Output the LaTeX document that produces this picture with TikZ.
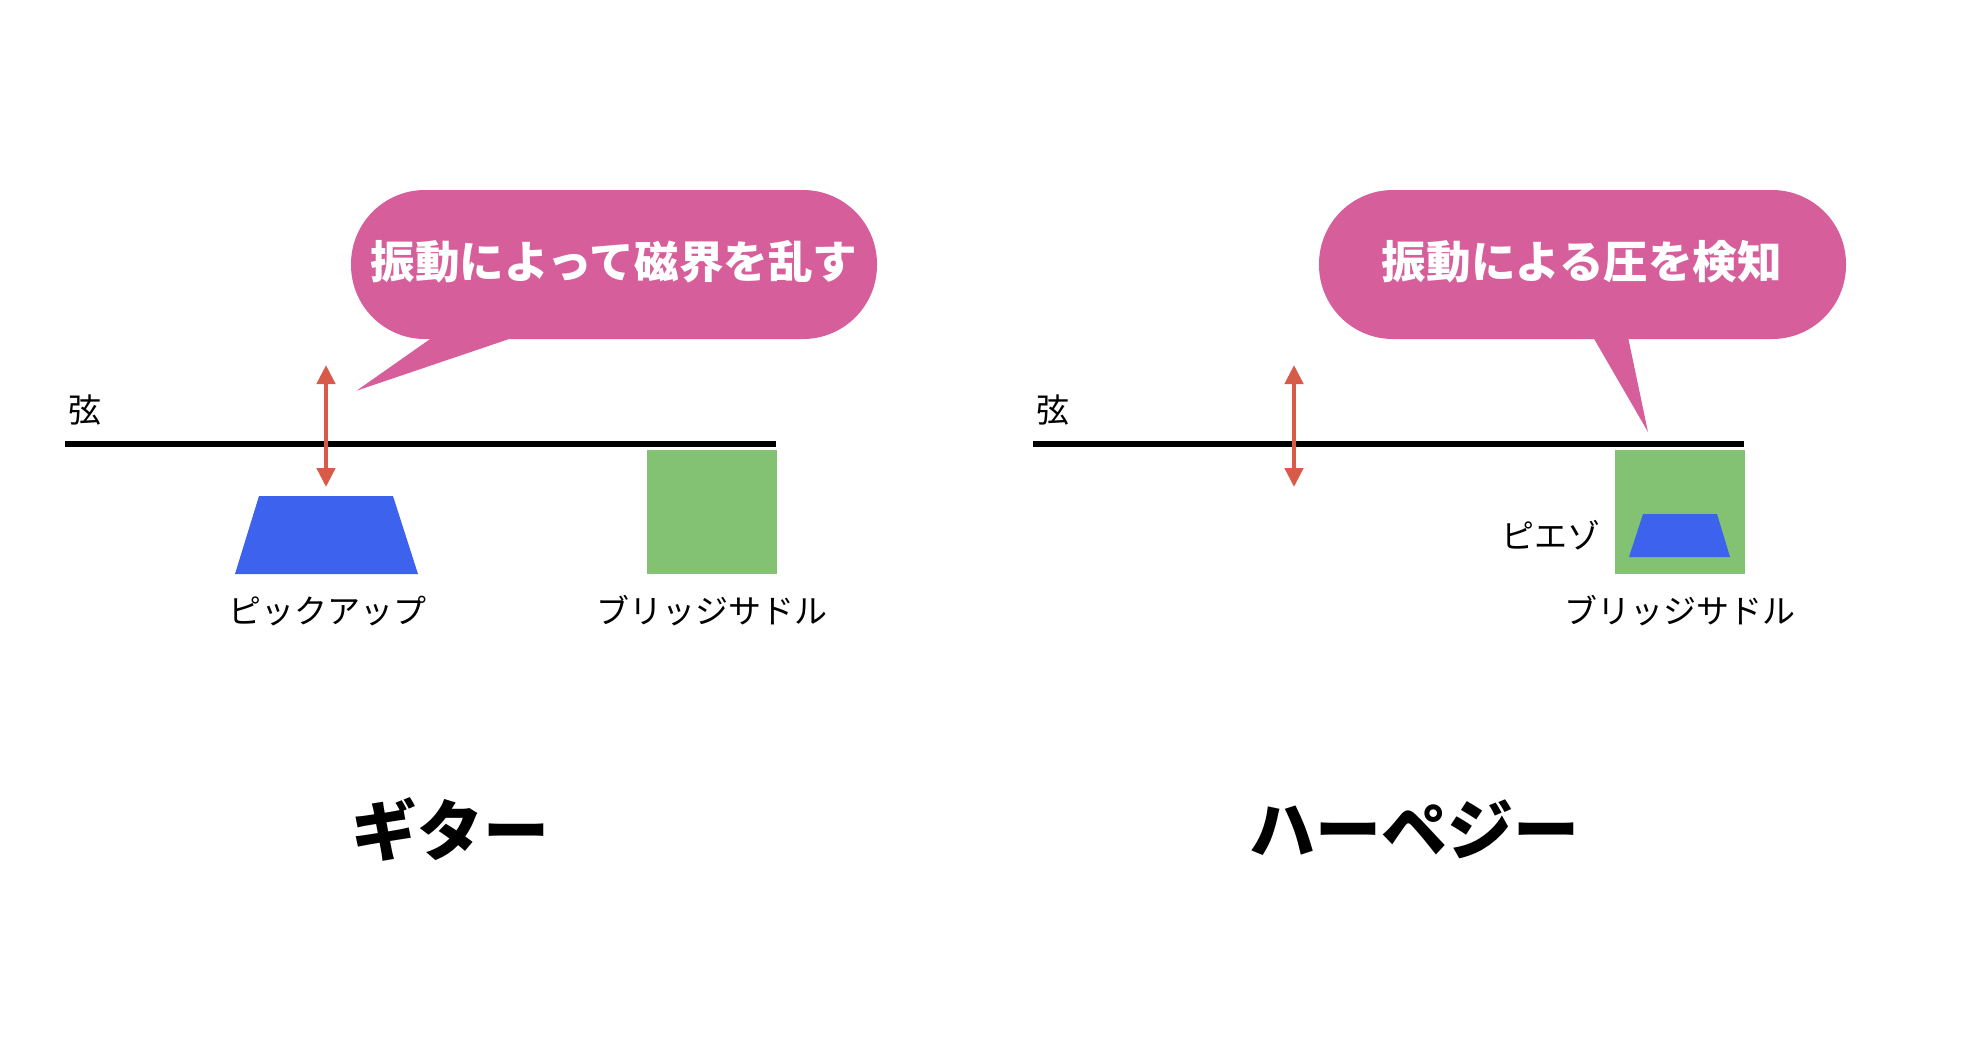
\documentclass[tikz,border=0pt]{standalone}
\usepackage{fontspec}
\setmainfont{Noto Sans CJK JP}
\usetikzlibrary{positioning}
\usetikzlibrary{arrows.meta}
\definecolor{bubblepink}{HTML}{D65E9A}
\definecolor{pickupblue}{HTML}{3C62EE}
\definecolor{saddlegreen}{HTML}{82C272}
\definecolor{vibred}{HTML}{D85A48}
\begin{document}
\begin{tikzpicture}[x=0.5pt,y=-0.5pt,
		smalllabel/.style={font=\fontsize{16.5}{19}\selectfont, inner sep=0pt},
		saytext/.style={font=\fontsize{22.3}{26}\selectfont\bfseries, text=white, inner sep=0pt},
		titletext/.style={font=\fontsize{33}{38}\selectfont\bfseries, inner sep=0pt},
		stringline/.style={line width=3pt},
		vibarrow/.style={{Triangle[width=9pt,length=9.5pt]}-{Triangle[width=9pt,length=9.5pt]}, line width=2.2pt, draw=vibred},
		bubble/.style={fill=bubblepink, rounded corners=37pt}]
		\useasboundingbox (0,0) rectangle (1984,1062);
		
		% Guitar
		\coordinate (stringleft1) at (65,444);
		\coordinate (stringright1) at (776,444);
		\draw [stringline] (stringleft1) -- (stringright1);
		\node [smalllabel] at (85,410) (gen1) {弦};
		\fill [pickupblue] (235,574) -- (259,496) -- (393,496) -- (418,574) -- cycle;
		\node [smalllabel] at (327,611) (pickup) {ピックアップ};
		\fill [saddlegreen] (647,450) rectangle (777,574);
		\node [smalllabel] at (712,611) (saddle1) {ブリッジサドル};
		\coordinate (vibtop1) at (326,365);
		\coordinate (vibbottom1) at (326,487);
		\draw [vibarrow] (vibtop1) -- (vibbottom1);
		\fill [bubble] (351,190) rectangle (877,339);
		\fill [bubblepink] (433,337) -- (356.5,390.7) -- (515,337) -- cycle;
		\node [saytext] at (614,262) (say1) {振動によって磁界を乱す};
		\node [titletext] at (450,829) (guitar) {ギター};
		
		% Harpejji
		\coordinate (stringleft2) at (1033,444);
		\coordinate (stringright2) at (1744,444);
		\draw [stringline] (stringleft2) -- (stringright2);
		\node [smalllabel] at (1053,410) (gen2) {弦};
		\coordinate (vibtop2) at (1294,365);
		\coordinate (vibbottom2) at (1294,487);
		\draw [vibarrow] (vibtop2) -- (vibbottom2);
		\fill [saddlegreen] (1615,450) rectangle (1745,574);
		\fill [pickupblue] (1629,557) -- (1643,514) -- (1717,514) -- (1730,557) -- cycle;
		\node [smalllabel] at (1551,535) (piezo) {ピエゾ};
		\node [smalllabel] at (1680,611) (saddle2) {ブリッジサドル};
		\fill [bubble] (1319,190) rectangle (1846,339);
		\fill [bubblepink] (1593,337) -- (1648,432) -- (1628,337) -- cycle;
		\node [saytext] at (1582,262) (say2) {振動による圧を検知};
		\node [titletext] at (1414,829) (harpejji) {ハーペジー};
		
\end{tikzpicture}
\end{document}
